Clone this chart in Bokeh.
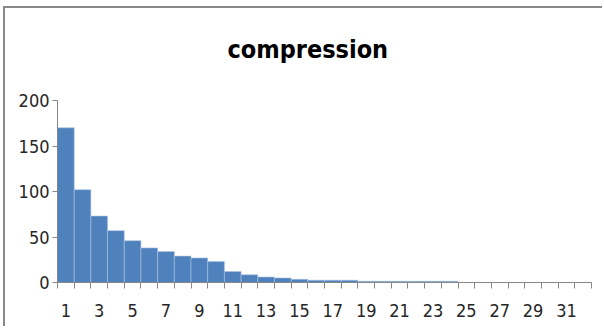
from bokeh.plotting import figure
from bokeh.models import FixedTicker, Range1d, ColumnDataSource, Title
from bokeh.embed import file_html
from bokeh.resources import INLINE

categories = list(range(1, 33))
counts = [170, 102, 73, 57, 46, 38, 34, 29, 27, 23, 12, 8.5, 6, 5, 3.5,
          2.5, 2.5, 2.5, 1.3, 1.3, 1.3, 1.3, 1.3, 1.3,
          0, 0, 0, 0, 0, 0, 0, 0]
x_tick_labels = list(range(1, 33, 2))
y_ticks = [0, 50, 100, 150, 200]
title_text = "compression"

src = ColumnDataSource(dict(x=categories, top=counts))

p = figure(width=599, height=320, output_backend="svg", toolbar_location=None,
           x_range=Range1d(0.5, 32.5), y_range=Range1d(0, 200),
           min_border_left=52, min_border_right=13, min_border_top=92,
           min_border_bottom=46)
p.margin = (6, 0, 0, 3)
p.styles = {"border-top": "2px solid #898989", "border-left": "2px solid #898989"}

p.vbar(x="x", top="top", width=1.0, source=src, fill_color="#4F81BD",
       line_color="#A9C2E0", line_width=0.6)

p.title.text = title_text
p.title.align = "left"
p.title.offset = 170
p.title.text_font = "DejaVu Sans Condensed"
p.title.text_font_size = "25px"
p.title.text_font_style = "bold"
p.title.text_color = "#000000"

spacer = Title(text=" ", text_font_size="22px", standoff=5)
p.add_layout(spacer, "above")

p.xgrid.visible = False
p.ygrid.visible = False
p.outline_line_color = None

p.xaxis.ticker = FixedTicker(ticks=x_tick_labels,
                             minor_ticks=[c - 0.5 for c in categories] + [32.5])
p.xaxis.major_tick_line_color = None
p.xaxis.major_tick_out = 0
p.xaxis.major_tick_in = 0
p.xaxis.minor_tick_out = 6
p.xaxis.minor_tick_in = 0
p.xaxis.minor_tick_line_color = "#868686"
p.xaxis.axis_line_color = "#868686"
p.xaxis.major_label_standoff = 15

p.yaxis.ticker = FixedTicker(ticks=y_ticks)
p.yaxis.major_tick_out = 5
p.yaxis.major_tick_in = 0
p.yaxis.minor_tick_line_color = None
p.yaxis.major_tick_line_color = "#868686"
p.yaxis.axis_line_color = "#868686"
p.yaxis.major_label_standoff = 3

for ax in (p.xaxis, p.yaxis):
    ax.major_label_text_font = "DejaVu Sans Condensed"
    ax.major_label_text_font_size = "18px"
    ax.major_label_text_color = "#262626"

open("out.html", "w").write(file_html(p, INLINE))
